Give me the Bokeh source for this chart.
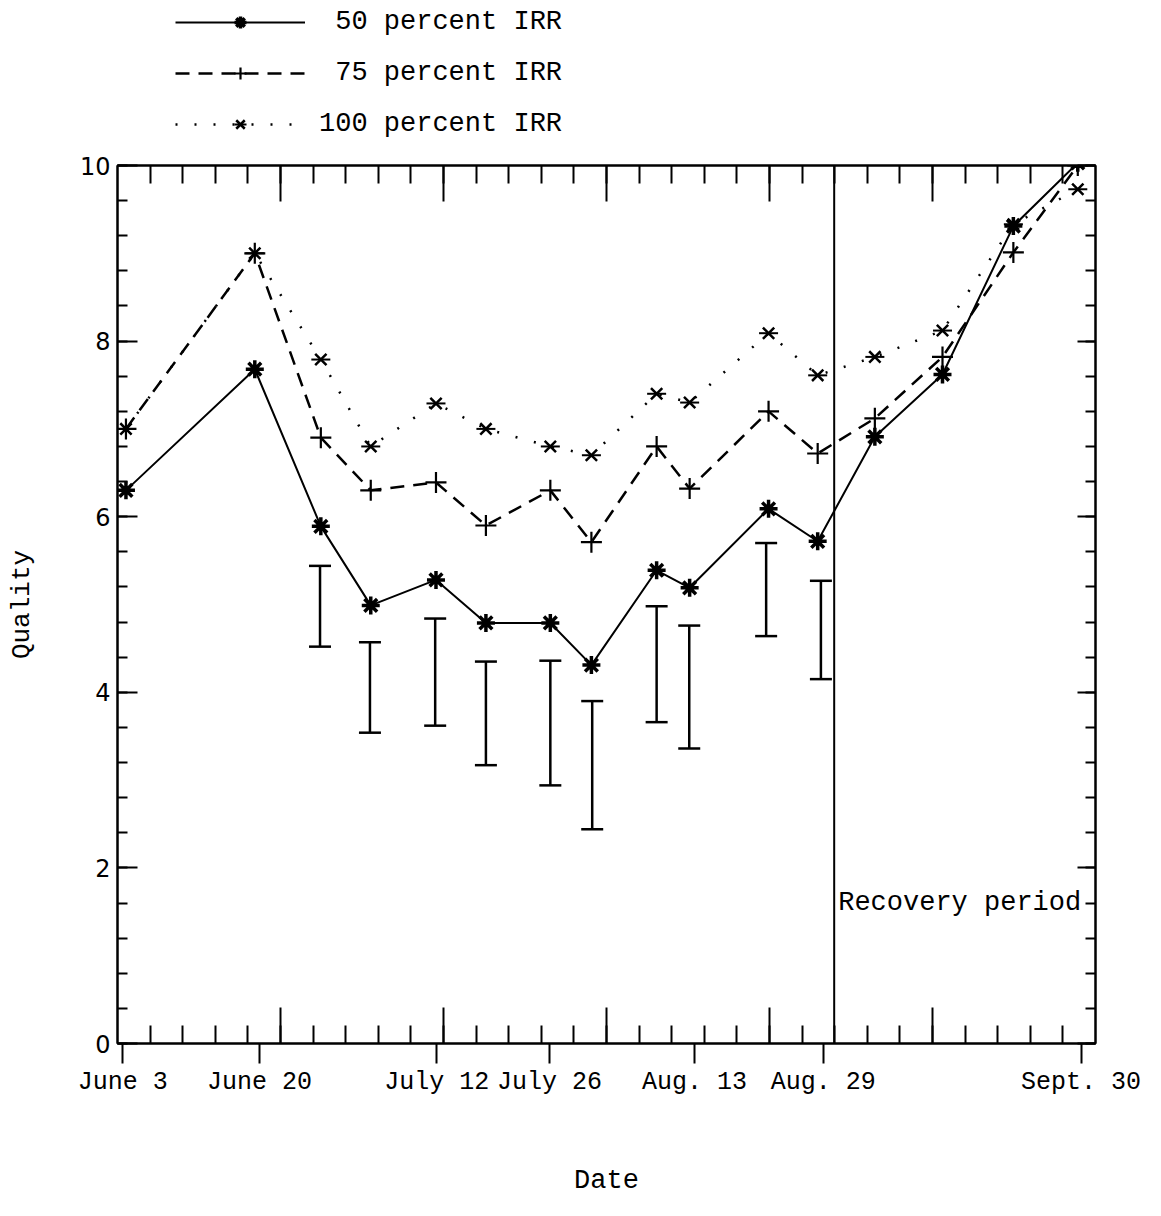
from bokeh.plotting import figure
from bokeh.layouts import column
from bokeh.models import (LinearAxis, FixedTicker, SingleIntervalTicker, Span, Label, Whisker,
                          TeeHead, ColumnDataSource, Legend, LegendItem, Range1d)
from bokeh.embed import file_html
from bokeh.resources import INLINE

# x values are days after June 3
date_tick_days = [0, 17, 39, 53, 71, 87, 119]
date_tick_labels = ["June 3", "June 20", "July 12", "July 26", "Aug. 13", "Aug. 29", "Sept. 30"]

sample_days = [0.4, 16.4, 24.6, 30.8, 38.9, 45.1, 53.1, 58.2, 66.3, 70.4, 80.2, 86.3, 93.4, 101.8, 110.6, 118.6]
quality_50 = [6.30, 7.68, 5.89, 4.99, 5.28, 4.79, 4.79, 4.31, 5.39, 5.19, 6.09, 5.72, 6.91, 7.62, 9.31, 10.03]
quality_75 = [7.00, 9.00, 6.90, 6.30, 6.39, 5.90, 6.30, 5.71, 6.80, 6.32, 7.20, 6.72, 7.12, 7.82, 9.01, 10.00]
quality_100 = [7.00, 9.00, 7.79, 6.80, 7.29, 7.00, 6.80, 6.70, 7.40, 7.30, 8.09, 7.61, 7.82, 8.12, 9.33, 9.73]

errbar_days = [24.5, 30.7, 38.8, 45.1, 53.1, 58.3, 66.3, 70.35, 79.9, 86.7]
errbar_upper = [5.44, 4.57, 4.84, 4.35, 4.36, 3.90, 4.98, 4.76, 5.70, 5.27]
errbar_lower = [4.52, 3.54, 3.62, 3.17, 2.94, 2.44, 3.66, 3.36, 4.64, 4.15]

series_labels = [" 50 percent IRR", " 75 percent IRR", "100 percent IRR"]

recovery_start_day = 88.35
recovery_label = "Recovery period"

x_start, x_end = -0.65, 120.8
y_start, y_end = 0, 10

MONO = "Liberation Mono"
FS = "27px"
FRAME_H = 878
LEGEND_H = 140

src = ColumnDataSource(dict(day=sample_days, q50=quality_50, q75=quality_75, q100=quality_100))

# series styles
S50 = dict(line=dict(line_color="black", line_width=2),
           marks=[dict(marker="asterisk", size=18, line_color="black", line_width=3.5)])
S75 = dict(line=dict(line_color="black", line_width=2.5, line_dash="14 9"),
           marks=[dict(marker="cross", size=21, line_color="black", line_width=2.2)])
S100 = dict(line=dict(line_color="black", line_width=2.5, line_dash="2 17"),
            marks=[dict(marker="x", size=16, line_color="black", line_width=2.5),
                   dict(marker="dash", size=19, line_color="black", line_width=2)])


def draw_series(fig, col, style, visible=True):
    rs = [fig.line("day", col, source=src, visible=visible, **style["line"])]
    for m in style["marks"]:
        rs.append(fig.scatter("day", col, source=src, visible=visible, **m))
    return rs


p = figure(width=1161, height=1216 - LEGEND_H, output_backend="svg", toolbar_location=None,
           x_range=Range1d(x_start, x_end), y_range=Range1d(y_start, y_end),
           x_axis_type=None, y_axis_type=None,
           min_border_left=117, min_border_right=66, min_border_top=165 - LEGEND_H,
           min_border_bottom=173,
           background_fill_color="white", border_fill_color="white")
p.outline_line_color = "black"
p.outline_line_width = 2

# frame tick positions: 30 equal divisions of the x frame
n_div = 30
step = (x_end - x_start) / n_div
frame_minor = [x_start + i * step for i in range(1, n_div)]
frame_major = [x_start + i * step for i in range(5, n_div, 5)]

# bottom date axis, with short inner ticks as minor ticks
xa = LinearAxis(ticker=FixedTicker(ticks=date_tick_days, minor_ticks=frame_minor),
                major_label_overrides={d: l for d, l in zip(date_tick_days, date_tick_labels)},
                major_tick_in=0, major_tick_out=20, minor_tick_in=18, minor_tick_out=0,
                major_tick_line_width=2, minor_tick_line_width=2, axis_line_width=2,
                major_label_text_font=MONO, major_label_text_font_size="25px",
                major_label_text_color="black", major_label_standoff=4,
                axis_label="Date", axis_label_text_font=MONO, axis_label_text_font_size=FS,
                axis_label_text_color="black",
                axis_label_text_font_style="normal", axis_label_standoff=66)
p.add_layout(xa, "below")

# longer inner ticks along the bottom edge (every fifth division)
long_tick = 36 / FRAME_H * (y_end - y_start)
p.segment(x0=frame_major, y0=[y_start] * len(frame_major), x1=frame_major,
          y1=[y_start + long_tick] * len(frame_major), line_color="black", line_width=2)

# top inner ticks
xt = LinearAxis(ticker=FixedTicker(ticks=frame_major, minor_ticks=frame_minor),
                major_tick_in=36, major_tick_out=0, minor_tick_in=18, minor_tick_out=0,
                major_tick_line_width=2, minor_tick_line_width=2, axis_line_width=2,
                major_label_text_color=None, major_label_text_font_size="8px",
                major_label_standoff=0)
p.add_layout(xt, "above")

# left axis
ya = LinearAxis(ticker=SingleIntervalTicker(interval=2, num_minor_ticks=5),
                major_tick_in=20, major_tick_out=0, minor_tick_in=10, minor_tick_out=0,
                major_tick_line_width=2, minor_tick_line_width=2, axis_line_width=2,
                major_label_text_font="DejaVu Sans", major_label_text_font_size="24px",
                major_label_text_color="black", major_label_standoff=7,
                axis_label="Quality", axis_label_text_font=MONO, axis_label_text_font_size="26px",
                axis_label_text_color="black",
                axis_label_text_font_style="normal", axis_label_standoff=40)
p.add_layout(ya, "left")

# right inner ticks
yr = LinearAxis(ticker=SingleIntervalTicker(interval=2, num_minor_ticks=5),
                major_tick_in=18, major_tick_out=0, minor_tick_in=10, minor_tick_out=0,
                major_tick_line_width=2, minor_tick_line_width=2, axis_line_width=2,
                major_label_text_color=None, major_label_text_font_size="8px",
                major_label_standoff=0)
p.add_layout(yr, "right")

draw_series(p, "q50", S50)
draw_series(p, "q75", S75)
draw_series(p, "q100", S100)

esrc = ColumnDataSource(dict(day=errbar_days, upper=errbar_upper, lower=errbar_lower))
p.add_layout(Whisker(base="day", upper="upper", lower="lower", source=esrc,
                     line_color="black", line_width=2.5,
                     upper_head=TeeHead(size=22, line_width=2.5, line_color="black"),
                     lower_head=TeeHead(size=22, line_width=2.5, line_color="black")))

p.add_layout(Span(location=recovery_start_day, dimension="height", line_color="black", line_width=2))
p.add_layout(Label(x=recovery_start_day, y=1.6, x_offset=4, text=recovery_label,
                   text_font=MONO, text_font_size=FS, text_color="black",
                   text_baseline="middle", text_align="left"))

# legend strip above the chart (its series renderers are hidden; only the key is shown)
lg = figure(width=1161, height=LEGEND_H, output_backend="svg", toolbar_location=None,
            x_range=Range1d(x_start, x_end), y_range=Range1d(y_start, y_end),
            x_axis_type=None, y_axis_type=None, min_border=0,
            background_fill_color="white", border_fill_color="white")
lg.outline_line_color = None
lg.xgrid.visible = False
lg.ygrid.visible = False
k50 = draw_series(lg, "q50", S50, visible=False)
k75 = draw_series(lg, "q75", S75, visible=False)
k100 = draw_series(lg, "q100", S100, visible=False)

legend = Legend(items=[LegendItem(label=series_labels[0], renderers=k50),
                       LegendItem(label=series_labels[1], renderers=k75),
                       LegendItem(label=series_labels[2], renderers=k100)],
                location=(58, 1), orientation="vertical", click_policy="none",
                glyph_width=130, glyph_height=30, label_height=30, spacing=21,
                label_standoff=14, padding=0, margin=0,
                label_text_font=MONO, label_text_font_size=FS, label_text_color="black",
                border_line_color=None, background_fill_alpha=0)
lg.add_layout(legend)

layout = column(lg, p, spacing=0)
open("out.html", "w").write(file_html(layout, INLINE))
